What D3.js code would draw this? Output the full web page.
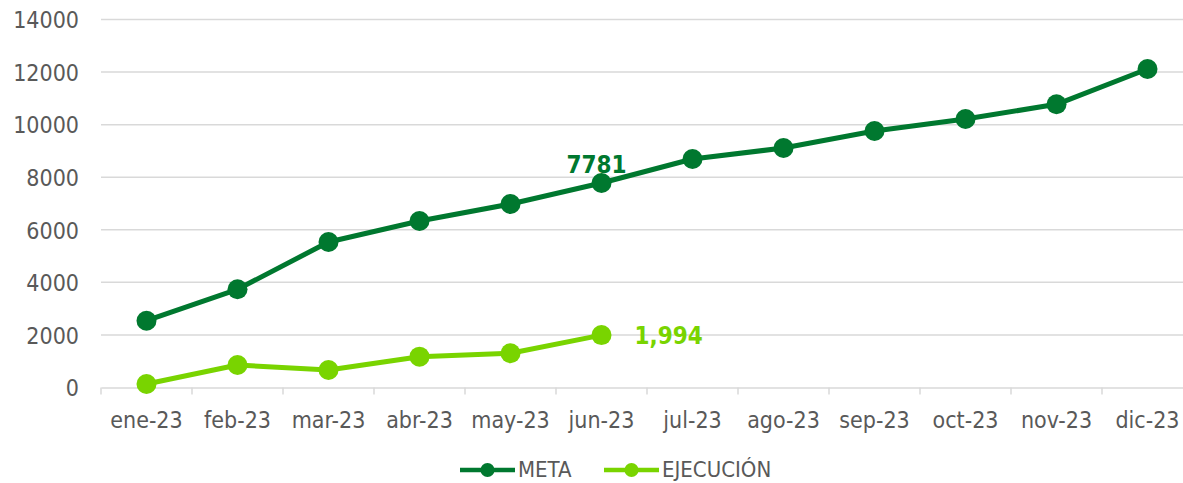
<!DOCTYPE html>
<html lang="es">
<head>
<meta charset="utf-8" />
<title>Meta vs Ejecución</title>
<style>
	body { margin: 0; padding: 0; background: #fff; }
	svg text { font-family: "DejaVu Sans Condensed", "DejaVu Sans", sans-serif; font-stretch: condensed; }
</style>
<script src="https://d3js.org/d3.v7.min.js"></script>
</head>
<body>
<div id="chart"></div>
<script>
// data
const months = ["ene-23", "feb-23", "mar-23", "abr-23", "may-23", "jun-23",
	"jul-23", "ago-23", "sep-23", "oct-23", "nov-23", "dic-23"];
const meta = [2541, 3736, 5535, 6334, 6981, 7781, 8693, 9111, 9757, 10214, 10774, 12117];
const ejecucion = [133, 856, 666, 1172, 1301, 1994];
const yTicks = [0, 2000, 4000, 6000, 8000, 10000, 12000, 14000];

const W = 1183, H = 483;
const darkGreen = "#00782f", lightGreen = "#79d400", textGrey = "#595959", gridGrey = "#d9d9d9";

const svg = d3.select("#chart").append("svg")
	.attr("width", W).attr("height", H);

const x = d3.scaleBand().domain(months).range([101, 1193]).paddingInner(0).paddingOuter(0);
const y = d3.scaleLinear().domain([0, 14000]).range([387.5, 19.5]);
const cx = d => x(d) + x.bandwidth() / 2;

// gridlines
svg.append("g").selectAll("line")
	.data(yTicks.filter(t => t > 0))
	.enter().append("line")
	.attr("x1", 101).attr("x2", 1193)
	.attr("y1", d => y(d)).attr("y2", d => y(d))
	.attr("stroke", gridGrey).attr("stroke-width", 1.5);

// y axis labels
const yAxis = svg.append("g")
	.attr("transform", "translate(79,0)")
	.call(d3.axisLeft(y).tickValues(yTicks).tickSize(0).tickPadding(0).tickFormat(d3.format("d")));
yAxis.select(".domain").remove();
yAxis.selectAll("text").attr("fill", textGrey).style("font-size", "23px").attr("dy", "0.36em");

// x axis
const xAxis = svg.append("g")
	.attr("transform", "translate(0," + y(0) + ")")
	.call(d3.axisBottom(x).tickSize(0).tickPadding(24));
xAxis.select(".domain").attr("stroke", gridGrey).attr("stroke-width", 1.5);
xAxis.selectAll("text").attr("fill", textGrey).style("font-size", "23px");
// category boundary ticks
xAxis.append("g").selectAll("line")
	.data(months.concat(["end"]))
	.enter().append("line")
	.attr("x1", (d, i) => 101 + i * x.bandwidth())
	.attr("x2", (d, i) => 101 + i * x.bandwidth())
	.attr("y1", 0).attr("y2", 7)
	.attr("stroke", gridGrey).attr("stroke-width", 1.5);

// series
const line = d3.line().x((d, i) => cx(months[i])).y(d => y(d));

function drawSeries(values, color) {
	svg.append("path").datum(values)
		.attr("d", line)
		.attr("fill", "none").attr("stroke", color)
		.attr("stroke-width", 5).attr("stroke-linejoin", "round");
	svg.append("g").selectAll("circle")
		.data(values).enter().append("circle")
		.attr("cx", (d, i) => cx(months[i]))
		.attr("cy", d => y(d))
		.attr("r", 10)
		.attr("fill", color);
}
drawSeries(meta, darkGreen);
drawSeries(ejecucion, lightGreen);

// data labels
svg.append("text")
	.attr("x", cx(months[5]) - 5).attr("y", y(meta[5]) - 10)
	.attr("text-anchor", "middle")
	.attr("fill", darkGreen).style("font-size", "24px").style("font-weight", "bold")
	.text(meta[5]);
svg.append("text")
	.attr("x", cx(months[5]) + 33).attr("y", y(ejecucion[5]) + 9)
	.attr("fill", lightGreen).style("font-size", "24px").style("font-weight", "bold")
	.text(d3.format(",")(ejecucion[5]));

// legend
const legend = [{ name: "META", color: darkGreen, x: 460 }, { name: "EJECUCIÓN", color: lightGreen, x: 604 }];
const lg = svg.append("g").selectAll("g").data(legend).enter().append("g")
	.attr("transform", d => "translate(" + d.x + ",470)");
lg.append("line").attr("x1", 0).attr("x2", 55)
	.attr("stroke", d => d.color).attr("stroke-width", 4.5);
lg.append("circle").attr("cx", 27.5).attr("r", 7).attr("fill", d => d.color);
lg.append("text").attr("x", 58).attr("dy", "0.3em")
	.attr("fill", textGrey).style("font-size", "22px")
	.text(d => d.name);
</script>
</body>
</html>
